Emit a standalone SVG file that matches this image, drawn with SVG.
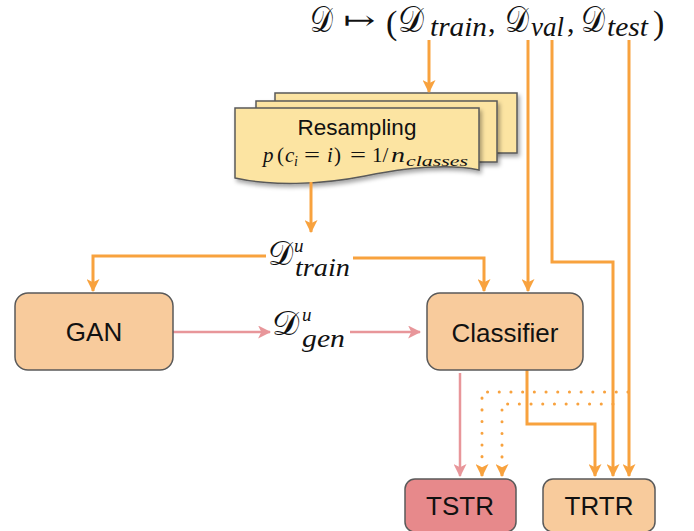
<svg xmlns="http://www.w3.org/2000/svg" width="694" height="531" viewBox="0 0 694 531">
<style>
.o{fill:none;stroke:#F8A23E;stroke-width:3}
.p{fill:none;stroke:#E8969A;stroke-width:2.5}
.d{fill:none;stroke:#F8A23E;stroke-width:3;stroke-dasharray:0.1 11.6;stroke-linecap:round}
.box{fill:#F8CB9C;stroke:#5a5a5a;stroke-width:1.5}
.card{fill:#FCE4A2;stroke:#5a5a5a;stroke-width:1.5}
.lbl{font-family:"Liberation Sans",Arial,sans-serif;font-size:26px;fill:#111;text-anchor:middle}
.m{font-family:"DejaVu Serif","Liberation Serif",serif;fill:#111}
.r{font-family:"Liberation Serif","Times New Roman",serif;fill:#111}
.mi{font-family:"Liberation Serif","Times New Roman",serif;font-style:italic;fill:#111}
</style>
<defs>
<marker id="ao" viewBox="0 0 12 12" refX="11" refY="6" markerWidth="13" markerHeight="13" markerUnits="userSpaceOnUse" orient="auto"><path d="M0,0 L12,6 L0,12 L3,6 Z" fill="#F8A23E"/></marker>
<marker id="ap" viewBox="0 0 12 12" refX="11" refY="6" markerWidth="13" markerHeight="13" markerUnits="userSpaceOnUse" orient="auto"><path d="M0,0 L12,6 L0,12 L3,6 Z" fill="#E8969A"/></marker>
<filter id="sh" x="-10%" y="-10%" width="130%" height="140%"><feDropShadow dx="2" dy="3" stdDeviation="2" flood-color="#000" flood-opacity="0.35"/></filter>
</defs>

<g id="formula">
<text class="m" x="310" y="32" font-size="36" textLength="23" lengthAdjust="spacingAndGlyphs">𝒟</text>
<text class="m" x="343" y="29" font-size="26" textLength="32" lengthAdjust="spacingAndGlyphs">↦</text>
<text class="r" x="386" y="34" font-size="34">(</text>
<text class="m" x="398" y="32" font-size="36" textLength="26" lengthAdjust="spacingAndGlyphs">𝒟</text>
<text class="mi" x="430" y="36" font-size="27" textLength="57" lengthAdjust="spacingAndGlyphs">train</text>
<text class="r" x="488" y="32" font-size="30">,</text>
<text class="m" x="505" y="32" font-size="36" textLength="24" lengthAdjust="spacingAndGlyphs">𝒟</text>
<text class="mi" x="531" y="36" font-size="27" textLength="33" lengthAdjust="spacingAndGlyphs">val</text>
<text class="r" x="567" y="32" font-size="30">,</text>
<text class="m" x="581" y="32" font-size="36" textLength="24" lengthAdjust="spacingAndGlyphs">𝒟</text>
<text class="mi" x="607" y="36" font-size="27" textLength="41" lengthAdjust="spacingAndGlyphs">test</text>
<text class="r" x="653" y="34" font-size="34">)</text>
</g>

<g id="resampling">
<path class="card" filter="url(#sh)" d="M275,93 H517 V153 H275 Z"/>
<path class="card" filter="url(#sh)" d="M256,101 H497 V162 H256 Z"/>
<path class="card" filter="url(#sh)" d="M235,108 H479 V170 C445,163 405,168 365,176 C320,185 270,186 235,178 Z"/>
<text x="357" y="135" font-family="Liberation Sans,Arial,sans-serif" font-size="22.5" fill="#111" text-anchor="middle">Resampling</text>
<text class="mi" x="263" y="162" font-size="21">p</text>
<text class="r" x="277" y="162" font-size="21">(</text>
<text class="mi" x="285" y="162" font-size="21">c</text>
<text class="mi" x="294" y="166" font-size="14">i</text>
<text class="r" x="304" y="162" font-size="21" textLength="16" lengthAdjust="spacingAndGlyphs">=</text>
<text class="mi" x="327" y="162" font-size="21">i</text>
<text class="r" x="334" y="162" font-size="21">)</text>
<text class="r" x="350" y="162" font-size="21" textLength="16" lengthAdjust="spacingAndGlyphs">=</text>
<text class="r" x="372" y="162" font-size="21">1/</text>
<text class="mi" x="391" y="162" font-size="21" textLength="14" lengthAdjust="spacingAndGlyphs">n</text>
<text class="mi" x="406" y="166" font-size="15" textLength="62" lengthAdjust="spacingAndGlyphs">classes</text>
</g>

<g id="connectors">
<path class="o" d="M429,40 V92" marker-end="url(#ao)"/>
<path class="o" d="M311,182 V232" marker-end="url(#ao)"/>
<path class="o" d="M266,256 H93 V291" marker-end="url(#ao)"/>
<path class="o" d="M353,258 H484 V291" marker-end="url(#ao)"/>
<path class="o" d="M528,40 V291" marker-end="url(#ao)"/>
<path class="o" d="M552,40 V262 H613 V476" marker-end="url(#ao)"/>
<path class="o" d="M629,40 V476" marker-end="url(#ao)"/>
<path class="p" d="M173,332 H270" marker-end="url(#ap)"/>
<path class="p" d="M350,332 H420" marker-end="url(#ap)"/>
<path class="p" d="M460,373 V476" marker-end="url(#ap)"/>
<path class="o" d="M527,370 V424 H595 V476" marker-end="url(#ao)"/>
<path class="d" d="M628,392 H482 V466"/>
<path class="d" d="M613,404 H502 V466"/>
<path class="o" d="M482,468 V476" marker-end="url(#ao)"/>
<path class="o" d="M502,468 V476" marker-end="url(#ao)"/>
</g>

<g id="label-train">
<text class="m" x="268" y="265" font-size="34" textLength="25" lengthAdjust="spacingAndGlyphs">𝒟</text>
<text class="mi" x="294" y="252" font-size="19">u</text>
<text class="mi" x="295" y="276" font-size="25" textLength="55" lengthAdjust="spacingAndGlyphs">train</text>
</g>
<g id="label-gen">
<text class="m" x="272" y="335" font-size="34" textLength="27" lengthAdjust="spacingAndGlyphs">𝒟</text>
<text class="mi" x="302" y="321" font-size="19">u</text>
<text class="mi" x="302" y="347" font-size="25" textLength="43" lengthAdjust="spacingAndGlyphs">gen</text>
</g>

<g id="gan">
<rect class="box" x="15" y="293" width="158" height="77" rx="13"/>
<text class="lbl" x="94" y="341">GAN</text>
</g>
<g id="classifier">
<rect class="box" x="427" y="293" width="156" height="77" rx="13"/>
<text class="lbl" x="505" y="342">Classifier</text>
</g>
<g id="tstr">
<rect x="405" y="479" width="111" height="53" rx="10" fill="#E7898B" stroke="#5a5a5a" stroke-width="1.5"/>
<text class="lbl" x="460" y="515">TSTR</text>
</g>
<g id="trtr">
<rect class="box" x="543" y="479" width="112" height="53" rx="10"/>
<text class="lbl" x="599" y="515">TRTR</text>
</g>
</svg>
